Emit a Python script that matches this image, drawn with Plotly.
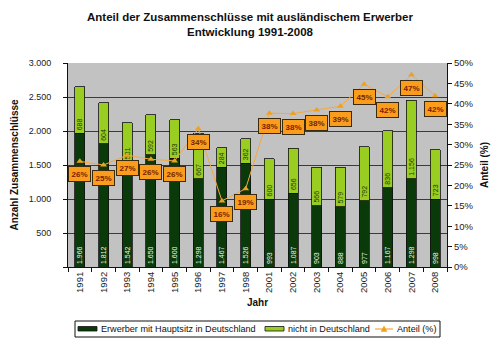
import plotly.graph_objects as go

years = ["1991", "1992", "1993", "1994", "1995", "1996", "1997", "1998",
         "2001", "2002", "2003", "2004", "2005", "2006", "2007", "2008"]
inland = [1966, 1812, 1542, 1650, 1600, 1298, 1467, 1526,
          993, 1087, 903, 888, 977, 1167, 1298, 998]
ausland = [688, 604, 581, 592, 563, 667, 284, 362,
           600, 656, 566, 579, 792, 836, 1156, 723]
anteil = [25.9, 25.0, 27.4, 26.4, 26.0, 33.9, 16.2, 19.2,
          37.7, 37.6, 38.5, 39.4, 44.8, 41.7, 47.1, 42.0]
left_ticks = [0, 500, 1000, 1500, 2000, 2500, 3000]
right_ticks = [0, 5, 10, 15, 20, 25, 30, 35, 40, 45, 50]
series_names = ["Erwerber mit Hauptsitz in Deutschland", "nicht in Deutschland", "Anteil (%)"]

FONT = "Liberation Sans, Arial, sans-serif"
DARK = "#0a3a0a"
LIGHT = "#9acd22"
ORANGE_LINE = "#f5a93a"

W, H = 500, 342
ML, MR, MT, MB = 68, 53, 63, 75
PW, PH = W - ML - MR, H - MT - MB


def de(n):
    return f"{n:,}".replace(",", ".")


def px(x):
    return (x - ML) / PW


def py(y):
    return (MT + PH - y) / PH


fig = go.Figure()
fig.add_trace(go.Bar(
    x=years, y=inland, name=series_names[0], showlegend=False,
    marker=dict(color=DARK, line=dict(color="#111", width=0.8)),
    text=[de(v) for v in inland], textposition="inside", textangle=-90,
    insidetextanchor="start", constraintext="none",
    textfont=dict(size=7, color="#f0f8e8", family=FONT), width=0.42,
))
fig.add_trace(go.Bar(
    x=years, y=ausland, name=series_names[1], showlegend=False,
    marker=dict(color=LIGHT, line=dict(color="#111", width=0.8)),
    text=[de(v) for v in ausland], textposition="inside", textangle=-90,
    insidetextanchor="start", constraintext="none",
    textfont=dict(size=7, color="#1a3a00", family=FONT), width=0.42,
))
fig.add_trace(go.Scatter(
    x=years, y=anteil, name=series_names[2], yaxis="y2", mode="lines+markers",
    showlegend=False,
    line=dict(color=ORANGE_LINE, width=1),
    marker=dict(symbol="triangle-up", size=6, color="#f0a020"),
))

for i, a in enumerate(anteil):
    fig.add_annotation(
        x=i, y=a, xref="x", yref="y2", yshift=-13, showarrow=False,
        text=f"<b>{round(a)}%</b>", bgcolor="#fb9d1c", bordercolor="#3a2a10",
        borderwidth=1, borderpad=2.5,
        font=dict(size=8, color="#7a2200", family=FONT),
    )

# custom legend (boxed, at the bottom)
fig.add_shape(type="rect", xref="paper", yref="paper",
              x0=px(75), x1=px(440), y0=py(321), y1=py(337),
              line=dict(color="#111", width=1), fillcolor="white", layer="above")
fig.add_shape(type="rect", xref="paper", yref="paper",
              x0=px(78), x1=px(97), y0=py(326.5), y1=py(331),
              line=dict(color="#111", width=0.8), fillcolor=DARK, layer="above")
fig.add_shape(type="rect", xref="paper", yref="paper",
              x0=px(265), x1=px(284), y0=py(326.5), y1=py(331),
              line=dict(color="#111", width=0.8), fillcolor=LIGHT, layer="above")
fig.add_shape(type="line", xref="paper", yref="paper",
              x0=px(375), x1=px(393), y0=py(329), y1=py(329),
              line=dict(color=ORANGE_LINE, width=1.2), layer="above")
fig.add_shape(type="path", xref="paper", yref="paper",
              path=f"M {px(381)} {py(331.5)} L {px(387)} {py(331.5)} L {px(384)} {py(326)} Z",
              line=dict(color="#f0a020", width=0.5), fillcolor="#f0a020", layer="above")
for name, xl in zip(series_names, [99, 286, 395]):
    fig.add_annotation(x=px(xl), y=py(329), xref="paper", yref="paper",
                       xanchor="left", yanchor="middle", showarrow=False,
                       text=name, font=dict(size=9.1, color="#111", family=FONT))

fig.update_layout(
    width=W, height=H,
    margin=dict(l=ML, r=MR, t=MT, b=MB),
    paper_bgcolor="white", plot_bgcolor="#c2c2c2",
    barmode="stack", showlegend=False,
    font=dict(family=FONT, size=9, color="#222"),
    title=dict(
        text="<b>Anteil der Zusammenschlüsse mit ausländischem Erwerber<br>Entwicklung 1991-2008</b>",
        x=0.5, xanchor="center", y=1 - 21 / 342, yanchor="middle",
        yref="container", font=dict(size=11.5, color="#111", family=FONT),
    ),
    xaxis=dict(
        type="category", range=[-0.5, len(years) - 0.5],
        tickangle=-90, ticks="outside", tickson="boundaries",
        ticklen=4, tickcolor="#111", showline=True, linecolor="#111",
        showgrid=False, tickfont=dict(size=9.5),
        title=dict(text="<b>Jahr</b>", font=dict(size=10, color="#111"), standoff=7),
    ),
    yaxis=dict(
        range=[0, 3000], tickvals=left_ticks,
        ticktext=["" if v == 0 else de(v) for v in left_ticks],
        ticks="outside", ticklen=4, tickcolor="#111", ticklabelstandoff=10,
        showline=True, linecolor="#111", showgrid=True, gridcolor="#3a3a3a",
        gridwidth=1, zeroline=False, tickfont=dict(size=9),
        title=dict(text="<b>Anzahl Zusammenschlüsse</b>", font=dict(size=10, color="#111"), standoff=8),
    ),
    yaxis2=dict(
        range=[0, 50], tickvals=right_ticks,
        ticktext=[f"{v}%" for v in right_ticks], overlaying="y", side="right",
        ticks="outside", ticklen=4, tickcolor="#111",
        showline=True, linecolor="#111", showgrid=False, zeroline=False,
        tickfont=dict(size=9.5),
        title=dict(text="<b>Anteil (%)</b>", font=dict(size=10, color="#111"), standoff=8),
    ),
)

fig.write_html("out.html")
